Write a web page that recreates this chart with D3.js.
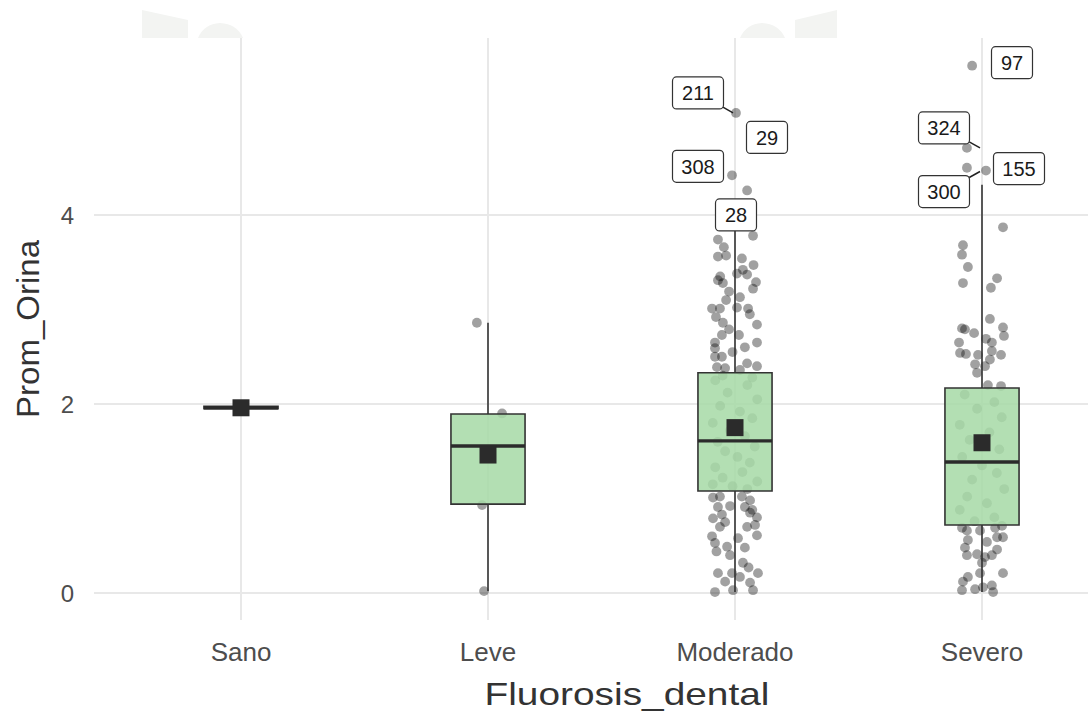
<!DOCTYPE html>
<html>
<head>
<meta charset="utf-8">
<script src="https://cdn.jsdelivr.net/npm/d3@7"></script>
<style>
  body { margin: 0; background: #fff; }
  text { font-family: "Liberation Sans", Arial, sans-serif; }
</style>
</head>
<body>
<div id="chart"></div>
<script>
// categories and box statistics
var categories = ["Sano", "Leve", "Moderado", "Severo"];
var q1Values     = [1.95, 0.94, 1.08, 0.72];
var medianValues = [1.96, 1.555, 1.61, 1.386];
var q3Values     = [1.975, 1.894, 2.33, 2.17];
var whiskerLow   = [1.95, 0.02, 0.01, 0.01];
var whiskerHigh  = [1.975, 2.86, 3.98, 4.32];
var meanValues   = [1.96, 1.46, 1.75, 1.59];

// jittered points: [offset (category units), value]
var sanoPoints = [[0.0, 1.96]];
var levePoints = [[-0.045, 2.86], [0.057, 1.9], [-0.024, 0.93], [-0.016, 0.02]];
var moderadoPoints = [
  [0.004, 5.08], [-0.012, 4.42], [0.049, 4.26], [0.0, 3.98],
  [-0.069, 3.74], [-0.045, 3.66], [-0.069, 3.56], [-0.036, 3.57], [0.073, 3.78], [0.028, 3.54],
  [0.032, 3.42], [0.049, 3.37], [0.008, 3.38], [-0.069, 3.31], [-0.049, 3.28], [0.085, 3.29],
  [0.073, 3.22], [-0.024, 3.19], [0.02, 3.13], [-0.036, 3.10], [-0.093, 3.01], [-0.061, 3.01],
  [-0.077, 2.92], [0.008, 3.02], [0.053, 3.01], [-0.049, 2.86], [-0.024, 2.79], [0.089, 2.84],
  [-0.053, 2.73], [0.016, 2.73], [-0.081, 2.65], [-0.081, 2.59], [0.04, 2.60], [0.089, 2.65],
  [-0.081, 2.50], [-0.053, 2.50], [0.049, 2.43], [0.089, 2.40], [-0.073, 2.39], [-0.04, 2.38],
  [0.02, 2.36], [-0.06, 3.35], [0.06, 2.95], [-0.01, 2.55], [0.075, 3.47],
  [-0.08, 2.25], [0.05, 2.2], [-0.03, 2.12], [0.09, 2.05], [-0.06, 1.98], [0.02, 1.92],
  [0.07, 1.85], [-0.09, 1.8], [-0.02, 1.72], [0.04, 1.66], [-0.07, 1.6], [0.08, 1.55],
  [-0.04, 1.5], [0.01, 1.44], [0.06, 1.38], [-0.08, 1.33], [0.03, 1.28], [-0.05, 1.22],
  [0.09, 1.18], [-0.01, 1.13], [0.05, 1.1], [-0.09, 1.15], [0.07, 2.28], [-0.05, 2.3],
  [-0.089, 1.01], [-0.061, 1.02], [0.028, 1.02], [0.061, 0.98], [-0.069, 0.91], [-0.02, 0.92],
  [0.04, 0.91], [-0.053, 0.83], [0.061, 0.85], [-0.089, 0.79], [0.089, 0.80], [-0.04, 0.75],
  [0.049, 0.70], [0.081, 0.72], [-0.061, 0.70], [0.089, 0.61], [-0.093, 0.60], [-0.081, 0.53],
  [-0.032, 0.49], [0.012, 0.58], [0.04, 0.48], [-0.02, 0.40], [0.032, 0.32], [-0.069, 0.21],
  [-0.012, 0.21], [0.093, 0.21], [0.02, 0.17], [-0.04, 0.12], [0.061, 0.11], [-0.081, 0.01],
  [-0.008, 0.03], [0.073, 0.03], [0.07, 0.88], [-0.075, 0.44], [0.055, 0.27]
];
var severoPoints = [
  [-0.04, 5.58], [-0.061, 4.71], [-0.061, 4.50], [0.016, 4.47],
  [0.085, 3.87], [-0.077, 3.68], [-0.081, 3.58], [-0.057, 3.45], [-0.077, 3.28], [0.061, 3.33],
  [0.036, 3.23], [0.032, 2.90], [-0.081, 2.80], [-0.069, 2.79], [-0.032, 2.75], [0.085, 2.81],
  [0.089, 2.72], [-0.093, 2.65], [0.016, 2.69], [0.04, 2.65], [-0.089, 2.54], [-0.065, 2.53],
  [-0.016, 2.52], [0.04, 2.56], [0.077, 2.52], [0.032, 2.47], [-0.028, 2.42], [0.012, 2.40],
  [-0.02, 2.33], [0.024, 2.20], [0.077, 2.19],
  [-0.07, 2.1], [0.05, 2.02], [-0.02, 1.95], [0.08, 1.86], [-0.09, 1.78], [0.03, 1.7],
  [-0.05, 1.62], [0.07, 1.52], [-0.08, 1.44], [0.0, 1.35], [0.06, 1.27], [-0.04, 1.2],
  [0.09, 1.1], [-0.06, 1.02], [0.02, 0.95], [-0.09, 0.88], [0.05, 0.8], [-0.03, 0.76],
  [-0.081, 0.69], [-0.061, 0.66], [-0.008, 0.66], [0.053, 0.69], [0.081, 0.71], [0.061, 0.59],
  [0.085, 0.59], [-0.057, 0.56], [0.02, 0.54], [-0.069, 0.48], [0.061, 0.46], [-0.061, 0.40],
  [-0.02, 0.41], [0.012, 0.38], [0.04, 0.40], [0.0, 0.32], [-0.008, 0.21], [0.085, 0.21],
  [-0.057, 0.17], [-0.077, 0.12], [0.04, 0.08], [-0.081, 0.03], [-0.028, 0.04], [0.045, 0.01],
  [0.004, 0.06]
];
var pointSets = [sanoPoints, levePoints, moderadoPoints, severoPoints];

// labelled observations
var labelIds      = ["211", "29", "308", "28", "97", "324", "300", "155"];
var labelCategory = ["Moderado", "Moderado", "Moderado", "Moderado", "Severo", "Severo", "Severo", "Severo"];
var labelValues   = [5.08, 4.26, 4.42, 3.98, 5.58, 4.71, 4.46, 4.47];
// label placement relative to its point (pixels) and whether a leader line shows
var labelDx  = [-37, 32, -37, 1, 30, -38, -38, 37];
var labelDy  = [-20, -53, -9, -2, -3, -20, 20, -2];
var labelSeg = [true, false, false, false, false, true, true, false];

var yTicks = [0, 2, 4];

var width = 1088, height = 718;
var panel = { left: 94, right: 1088, top: 38, bottom: 620 };

var svg = d3.select("#chart").append("svg")
    .attr("width", width)
    .attr("height", height)
    .style("display", "block");

svg.append("rect").attr("width", width).attr("height", height).attr("fill", "#fff");

// faint watermark remnants along the top edge
var mark = svg.append("g").attr("fill", "#f3f4f2");
mark.append("path").attr("d", "M142,10 L188,20 L188,38 L142,38 Z");
mark.append("path").attr("d", "M198,38 Q204,24 220,23 Q237,24 243,38 Z");
mark.append("path").attr("d", "M740,38 Q746,24 762,23 Q779,24 785,38 Z");
mark.append("path").attr("d", "M795,20 L837,10 L837,38 L795,38 Z");

var x = d3.scalePoint().domain(categories).range([241, 982]);
var step = x.step();
var y = d3.scaleLinear().domain([0, 4]).range([593, 215]);

// grid
var grid = svg.append("g");
grid.selectAll(".hgrid").data(yTicks).join("line")
    .attr("x1", panel.left).attr("x2", panel.right)
    .attr("y1", d => y(d)).attr("y2", d => y(d))
    .attr("stroke", "#e8e8e8").attr("stroke-width", 2);
grid.selectAll(".vgrid").data(categories).join("line")
    .attr("x1", d => x(d)).attr("x2", d => x(d))
    .attr("y1", panel.top).attr("y2", panel.bottom)
    .attr("stroke", "#e8e8e8").attr("stroke-width", 2);

// jittered points
var pts = [];
categories.forEach(function (c, i) {
    pointSets[i].forEach(function (p) { pts.push({ cat: c, off: p[0], v: p[1] }); });
});
svg.append("g").selectAll("circle").data(pts).join("circle")
    .attr("cx", d => x(d.cat) + d.off * step)
    .attr("cy", d => y(d.v))
    .attr("r", 4.9)
    .attr("fill", "#000")
    .attr("fill-opacity", 0.37);

// boxplots
var boxW = 0.3 * step;
var stats = categories.map(function (c, i) {
    return { cat: c, q1: q1Values[i], med: medianValues[i], q3: q3Values[i],
             lo: whiskerLow[i], hi: whiskerHigh[i], mean: meanValues[i] };
});
var box = svg.append("g").selectAll("g").data(stats).join("g");
box.append("line")
    .attr("x1", d => x(d.cat)).attr("x2", d => x(d.cat))
    .attr("y1", d => y(d.hi)).attr("y2", d => y(d.q3))
    .attr("stroke", "#333").attr("stroke-width", 1.6);
box.append("line")
    .attr("x1", d => x(d.cat)).attr("x2", d => x(d.cat))
    .attr("y1", d => y(d.q1)).attr("y2", d => y(d.lo))
    .attr("stroke", "#333").attr("stroke-width", 1.6);
box.append("path")
    .attr("d", function (d) {
        var x0 = x(d.cat) - boxW / 2, x1 = x(d.cat) + boxW / 2;
        return "M" + x0 + "," + y(d.q3) + "H" + x1 + "V" + y(d.q1) + "H" + x0 + "Z";
    })
    .attr("fill", "rgb(166,218,166)")
    .attr("fill-opacity", 0.86)
    .attr("stroke", "#333").attr("stroke-width", 1.6);
box.append("line")
    .attr("x1", d => x(d.cat) - boxW / 2).attr("x2", d => x(d.cat) + boxW / 2)
    .attr("y1", d => y(d.med)).attr("y2", d => y(d.med))
    .attr("stroke", "#2b2b2b").attr("stroke-width", 3.4);
box.append("rect")
    .attr("x", d => x(d.cat) - 8.5)
    .attr("y", d => y(d.mean) - 8.5)
    .attr("width", 17).attr("height", 17)
    .attr("fill", "#2b2b2b");

// labels (ggrepel style)
var labs = labelIds.map(function (id, i) {
    var px = x(labelCategory[i]), py = y(labelValues[i]);
    return { id: id, px: px, py: py, lx: px + labelDx[i], ly: py + labelDy[i], seg: labelSeg[i] };
});
var lg = svg.append("g").selectAll("g").data(labs).join("g");
lg.filter(d => d.seg).append("line")
    .attr("x1", d => d.lx).attr("y1", d => d.ly)
    .attr("x2", d => d.px - 2).attr("y2", d => d.py)
    .attr("stroke", "#222").attr("stroke-width", 1.5);
lg.each(function (d) {
    var g = d3.select(this);
    var w = d.id.length === 3 ? 51 : 41;
    g.append("rect")
        .attr("x", d.lx - w / 2).attr("y", d.ly - 16)
        .attr("width", w).attr("height", 32)
        .attr("rx", 4)
        .attr("fill", "#fff")
        .attr("stroke", "#333").attr("stroke-width", 1.2);
    g.append("text")
        .attr("x", d.lx).attr("y", d.ly)
        .attr("dy", "0.36em")
        .attr("text-anchor", "middle")
        .style("font-size", "20px")
        .attr("fill", "#1a1a1a")
        .text(d.id);
});

// axes text
svg.append("g").selectAll("text").data(yTicks).join("text")
    .attr("x", 74).attr("y", d => y(d))
    .attr("dy", "0.36em")
    .attr("text-anchor", "end")
    .style("font-size", "24px")
    .attr("fill", "#4d4d4d")
    .text(d => d);
svg.append("g").selectAll("text").data(categories).join("text")
    .attr("x", d => x(d)).attr("y", 652)
    .attr("dy", "0.36em")
    .attr("text-anchor", "middle")
    .style("font-size", "26px")
    .attr("fill", "#4d4d4d")
    .text(d => d);
svg.append("text")
    .attr("x", 627).attr("y", 693)
    .attr("dy", "0.36em")
    .attr("text-anchor", "middle")
    .style("font-size", "32px")
    .attr("textLength", 285)
    .attr("lengthAdjust", "spacingAndGlyphs")
    .attr("fill", "#333")
    .text("Fluorosis_dental");
svg.append("text")
    .attr("transform", "translate(27,329) rotate(-90)")
    .attr("dy", "0.36em")
    .attr("text-anchor", "middle")
    .style("font-size", "32px")
    .attr("textLength", 178)
    .attr("lengthAdjust", "spacingAndGlyphs")
    .attr("fill", "#333")
    .text("Prom_Orina");
</script>
</body>
</html>
